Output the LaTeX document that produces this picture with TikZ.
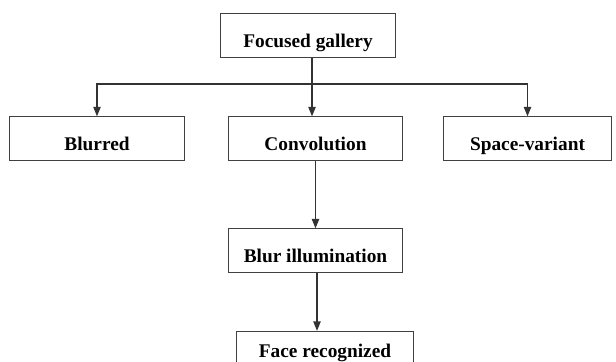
\documentclass[tikz,border=0pt]{standalone}
\usepackage{fontspec}
\setmainfont{Liberation Serif}
\usetikzlibrary{arrows.meta}
\begin{document}
\begin{tikzpicture}[x=0.75pt, y=-0.75pt,
		every node/.style={rectangle, draw=black!75, line width=0.8pt, inner sep=0pt,
			minimum width=131pt, text height=25.5pt, text depth=7pt,
			font=\fontsize{14.5}{17}\selectfont\bfseries},
		link/.style={draw=black!80, line width=0.8pt},
		arrow/.style={link, -{Triangle[length=7pt, width=5.5pt]}}]
		\clip (0,0) rectangle (616,361);

		\node (gallery) at (308,35.5) {Focused gallery};

		\node (blurred) at (97,138.5) {Blurred};
		\node (convolution) at (315.5,138.5) {Convolution};
		\node[minimum width=126pt] (spaceVariant) at (527.5,138.5) {Space-variant};

		\node (blurIllumination) at (315.5,250.5) {Blur illumination};
		\node[minimum width=133pt, text height=19.5pt, text depth=13pt] (faceRecognized) at (325,353) {Face recognized};

		\coordinate (split) at (312,84);

		\draw[arrow] (gallery.south -| split) -- (split |- convolution.north);
		\draw[arrow] (split) -| (blurred);
		\draw[arrow] (split) -| (spaceVariant);

		\draw[arrow] (convolution) -- (blurIllumination);
		\draw[arrow] (blurIllumination.south) ++(1.5,0) coordinate (fromBlur) -- (fromBlur |- faceRecognized.north);
	\end{tikzpicture}
\end{document}
